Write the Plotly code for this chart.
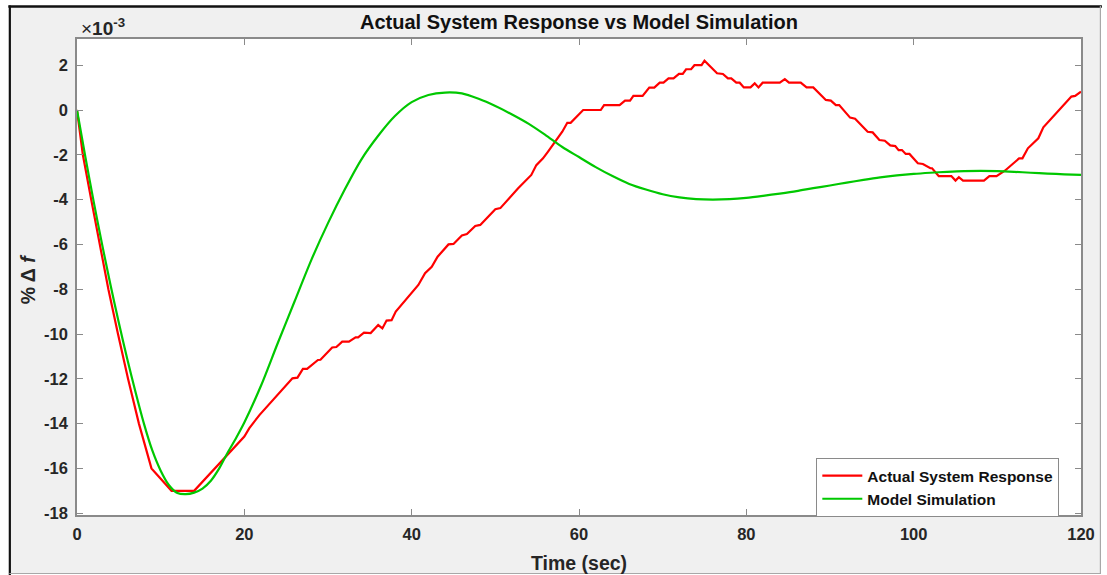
import plotly.graph_objects as go

# Measured frequency deviation (units of 1e-3 %)
actual_t = [0, 0.7, 1.7, 2.7, 3.75, 4.9, 6.1, 7.4, 8.9, 11.3, 14.0, 20.0, 20.6, 21.8,
            25.75, 26.35, 27.0, 27.5, 28.8, 29.1, 30.5, 31.0, 31.7, 32.5, 33.3, 33.6,
            34.3, 35.1, 36.0, 36.5, 37.0, 37.6, 38.1, 40.8, 41.6, 42.4, 43.1, 44.4,
            45.0, 46.0, 46.6, 47.6, 48.2, 50.0, 50.6, 52.7, 54.3, 54.9, 55.7, 56.3,
            58.0, 58.6, 59.0, 60.5, 62.6, 63.0, 64.85, 65.5, 66.1, 66.5, 67.6, 68.4,
            69.0, 69.65, 70.1, 70.7, 71.3, 71.95, 72.4, 72.8, 73.4, 73.8, 74.65, 75.0,
            75.5, 76.5, 77.2, 77.8, 78.2, 78.8, 79.2, 79.7, 80.5, 81.0, 81.45, 81.95,
            84.0, 84.6, 85.1, 86.5, 87.2, 88.0, 89.5, 90.1, 90.7, 91.1, 92.4, 93.0,
            94.5, 95.1, 95.9, 96.55, 97.2, 97.8, 98.2, 98.6, 99.05, 99.5, 100.5, 101.1,
            102.0, 102.2, 103.0, 104.5, 105.0, 105.4, 105.9, 108.4, 109.05, 109.9,
            110.9, 112.6, 113.0, 113.65, 114.9, 115.5, 118.85, 119.3, 120.0]
actual_v = [0, -2.0, -4.0, -6.0, -8.0, -10.0, -12.0, -14.0, -16.0, -17.0, -17.0, -14.58,
            -14.2, -13.62, -11.98, -11.95, -11.56, -11.56, -11.16, -11.15, -10.6, -10.58,
            -10.34, -10.34, -10.15, -10.15, -9.94, -9.96, -9.6, -9.75, -9.4, -9.38, -9.0,
            -7.81, -7.29, -7.0, -6.55, -6.0, -5.98, -5.6, -5.54, -5.18, -5.13, -4.43,
            -4.38, -3.5, -2.9, -2.46, -2.16, -1.86, -0.97, -0.57, -0.57, 0.0, 0.0, 0.22,
            0.22, 0.42, 0.42, 0.63, 0.63, 1.0, 1.0, 1.22, 1.22, 1.41, 1.41, 1.61, 1.61,
            1.82, 1.82, 2.0, 2.0, 2.2, 2.0, 1.64, 1.61, 1.41, 1.41, 1.22, 1.22, 1.01,
            1.01, 1.19, 1.01, 1.22, 1.22, 1.38, 1.22, 1.22, 1.01, 1.01, 0.45, 0.42, 0.22,
            0.22, -0.34, -0.39, -0.97, -1.0, -1.34, -1.37, -1.58, -1.61, -1.79, -1.79,
            -1.96, -1.96, -2.38, -2.41, -2.6, -2.6, -2.95, -2.95, -3.15, -3.0, -3.15,
            -3.15, -2.95, -2.95, -2.71, -2.16, -2.16, -1.71, -1.26, -0.77, 0.6, 0.63,
            0.82]

# Simulated model response (units of 1e-3 %)
model_t = [0, 1, 2, 3, 4, 5, 6, 7, 8, 9, 10, 11, 12, 13, 14, 15, 16, 17, 18, 19, 20,
           22, 24, 26, 28, 30, 32, 34, 36, 38, 40, 42, 44, 46, 48, 50, 52, 54, 56, 58,
           60, 62, 64, 66, 68, 70, 72, 74, 76, 78, 80, 82, 84, 86, 88, 90, 92, 94, 96,
           98, 100, 102, 104, 106, 108, 110, 112, 114, 116, 118, 120]
model_v = [0, -2.1, -4.1, -6.0, -7.8, -9.5, -11.1, -12.6, -14.0, -15.2, -16.1, -16.75,
           -17.1, -17.15, -17.08, -16.9, -16.55, -16.0, -15.3, -14.65, -13.95,
           -12.3, -10.4, -8.55, -6.7, -5.05, -3.55, -2.2, -1.15, -0.27, 0.35, 0.67, 0.78,
           0.74, 0.5, 0.18, -0.2, -0.62, -1.12, -1.65, -2.1, -2.55, -2.95, -3.3, -3.55,
           -3.76, -3.9, -3.98, -4.0, -3.98, -3.92, -3.83, -3.73, -3.62, -3.49, -3.37,
           -3.24, -3.12, -3.01, -2.92, -2.85, -2.8, -2.76, -2.73, -2.72, -2.73, -2.76,
           -2.8, -2.84, -2.87, -2.9]

x_ticks = [0, 20, 40, 60, 80, 100, 120]
y_ticks = [-18, -16, -14, -12, -10, -8, -6, -4, -2, 0, 2]
x_labels = [str(v) for v in x_ticks]
y_labels = [str(v) for v in y_ticks]   # plain hyphen minus

FONT = "Arial, Liberation Sans, sans-serif"
AXIS_GRAY = "#8a8a8a"
TEXT = "#262626"

# Figure geometry in pixels
W, H = 1107, 575
L, R, T, B = 77, 21, 39, 60
PW, PH = W - L - R, H - T - B


def px_x(p):
    return (p - L) / PW


def px_y(p):
    return (H - B - p) / PH


fig = go.Figure()
fig.add_trace(go.Scatter(x=actual_t, y=actual_v, mode="lines",
                         name="Actual System Response",
                         line=dict(color="#ff0000", width=2.2)))
fig.add_trace(go.Scatter(x=model_t, y=model_v, mode="lines",
                         name="Model Simulation",
                         line=dict(color="#00c800", width=2.2, shape="spline",
                                   smoothing=0.8)))

axis_common = dict(showline=True, linecolor=AXIS_GRAY, linewidth=1.5,
                   mirror="allticks", ticks="inside", ticklen=6,
                   tickcolor=AXIS_GRAY, tickwidth=1.2, showgrid=False,
                   zeroline=False,
                   tickfont=dict(family=FONT, size=16.5, color=TEXT, weight="bold"))

fig.update_xaxes(range=[0, 120], tickvals=x_ticks, ticktext=x_labels,
                 ticklabelstandoff=3, **axis_common)
fig.update_yaxes(range=[-18.08, 3.17], tickvals=y_ticks, ticktext=y_labels,
                 ticklabelstandoff=4, **axis_common)

shapes = [
    # grey window background with the white axes box on top
    dict(type="rect", xref="paper", yref="paper", x0=px_x(9), x1=px_x(1106),
         y0=px_y(574), y1=px_y(6), fillcolor="#f0f0f0", line_width=0,
         layer="below"),
    dict(type="rect", xref="paper", yref="paper", x0=0, x1=1, y0=0, y1=1,
         fillcolor="white", line_width=0, layer="below"),
    # window frame
    dict(type="line", xref="paper", yref="paper", x0=px_x(8), x1=px_x(1107),
         y0=px_y(6.5), y1=px_y(6.5), line=dict(color="#111111", width=2.5)),
    dict(type="line", xref="paper", yref="paper", x0=px_x(9.5), x1=px_x(9.5),
         y0=px_y(5.5), y1=px_y(575), line=dict(color="#111111", width=2.2)),
    dict(type="line", xref="paper", yref="paper", x0=px_x(1105.5), x1=px_x(1105.5),
         y0=px_y(6), y1=px_y(574), line=dict(color="#a8a8a8", width=1.2)),
    dict(type="line", xref="paper", yref="paper", x0=px_x(9), x1=px_x(1106),
         y0=px_y(573.5), y1=px_y(573.5), line=dict(color="#a8a8a8", width=1.2)),
]

annotations = [
    dict(text="<b>% Δ <i>f</i></b>", xref="paper", yref="paper",
         x=px_x(28), y=px_y(279), textangle=-90, showarrow=False,
         xanchor="center", yanchor="middle",
         font=dict(family=FONT, size=19.5, color=TEXT)),
    dict(text="<b>Time (sec)</b>", xref="paper", yref="paper",
         x=0.5, y=px_y(563), showarrow=False, xanchor="center",
         yanchor="middle", font=dict(family=FONT, size=19.5, color=TEXT)),
    dict(text="×<b>10<sup>-3</sup></b>", xref="paper", yref="paper",
         x=px_x(79), y=px_y(27), showarrow=False, xanchor="left",
         yanchor="middle", font=dict(family=FONT, size=19, color=TEXT)),
]

fig.update_layout(
    width=W, height=H, autosize=False,
    margin=dict(l=L, r=R, t=T, b=B, pad=0),
    paper_bgcolor="white", plot_bgcolor="white",
    title=dict(text="<b>Actual System Response vs Model Simulation</b>",
               x=0.5, xref="paper", y=1 - 22 / H, yref="container",
               xanchor="center", yanchor="middle",
               font=dict(family=FONT, size=20, color="#111111")),
    legend=dict(x=px_x(820), y=px_y(458), xanchor="left", yanchor="top",
                bgcolor="white", bordercolor=AXIS_GRAY, borderwidth=1,
                font=dict(family=FONT, size=15.5, color="#111111", weight="bold"),
                tracegroupgap=0, itemwidth=40),
    shapes=shapes,
    annotations=annotations,
    showlegend=True,
)

fig.write_html("out.html")
